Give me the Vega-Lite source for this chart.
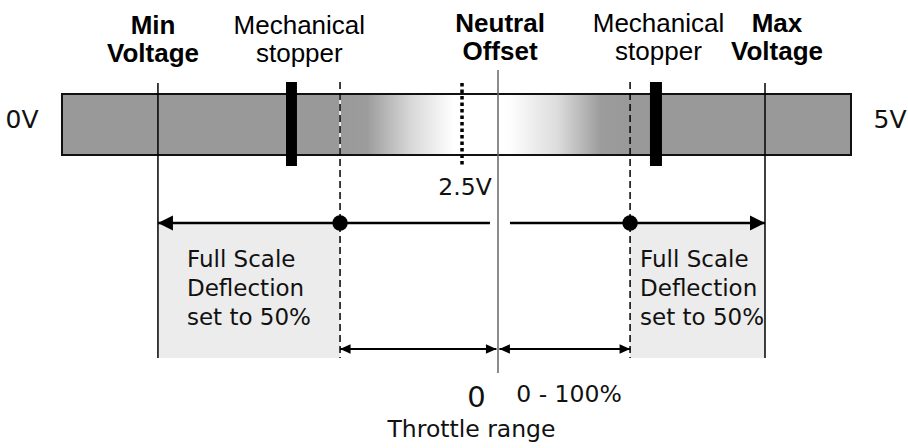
{
  "$schema": "https://vega.github.io/schema/vega-lite/v6.json",
  "width": 908,
  "height": 448,
  "padding": 0,
  "autosize": "none",
  "background": "white",
  "config": {"view": {"stroke": null}, "axis": {"disable": true}},
  "layer": [
    {
      "data": {"values": [
        {"name": "Full scale low", "v0": 0.608, "v1": 1.762, "ytop": 223, "ybot": 358},
        {"name": "Full scale high", "v0": 3.6, "v1": 4.455, "ytop": 223, "ybot": 358}
      ]},
      "mark": {"type": "rect", "fill": "#ececec"},
      "encoding": {
        "x": {"field": "v0", "type": "quantitative", "scale": {"domain": [0, 5], "range": [62, 851]}},
        "x2": {"field": "v1"},
        "y": {"field": "ytop", "type": "quantitative", "scale": {"domain": [0, 448], "reverse": true}},
        "y2": {"field": "ybot"}
      }
    },
    {
      "data": {"values": [{"name": "Voltage band", "v0": 0, "v1": 5, "ytop": 94, "ybot": 155}]},
      "mark": {"type": "rect", "fill": "#999999"},
      "encoding": {
        "x": {"field": "v0", "type": "quantitative", "scale": {"domain": [0, 5], "range": [62, 851]}},
        "x2": {"field": "v1"},
        "y": {"field": "ytop", "type": "quantitative", "scale": {"domain": [0, 448], "reverse": true}},
        "y2": {"field": "ybot"}
      }
    },
    {
      "data": {"values": [{"name": "Fade low", "v0": 1.762, "v1": 2.763, "ytop": 94, "ybot": 155}]},
      "mark": {"type": "rect", "fill": {"gradient": "linear", "x1": 0, "x2": 1, "y1": 0, "y2": 0, "stops": [
        {"offset": 0, "color": "#999999"},
        {"offset": 0.17, "color": "#9c9c9c"},
        {"offset": 0.45, "color": "#d8d8d8"},
        {"offset": 0.72, "color": "#ffffff"},
        {"offset": 1, "color": "#ffffff"}
      ]}},
      "encoding": {
        "x": {"field": "v0", "type": "quantitative", "scale": {"domain": [0, 5], "range": [62, 851]}},
        "x2": {"field": "v1"},
        "y": {"field": "ytop", "type": "quantitative", "scale": {"domain": [0, 448], "reverse": true}},
        "y2": {"field": "ybot"}
      }
    },
    {
      "data": {"values": [{"name": "Fade high", "v0": 2.763, "v1": 3.6, "ytop": 94, "ybot": 155}]},
      "mark": {"type": "rect", "fill": {"gradient": "linear", "x1": 0, "x2": 1, "y1": 0, "y2": 0, "stops": [
        {"offset": 0, "color": "#ffffff"},
        {"offset": 0.1, "color": "#fdfdfd"},
        {"offset": 0.45, "color": "#dcdcdc"},
        {"offset": 0.78, "color": "#9c9c9c"},
        {"offset": 1, "color": "#999999"}
      ]}},
      "encoding": {
        "x": {"field": "v0", "type": "quantitative", "scale": {"domain": [0, 5], "range": [62, 851]}},
        "x2": {"field": "v1"},
        "y": {"field": "ytop", "type": "quantitative", "scale": {"domain": [0, 448], "reverse": true}},
        "y2": {"field": "ybot"}
      }
    },
    {
      "data": {"values": [{"name": "Voltage band outline", "v0": 0, "v1": 5, "ytop": 94, "ybot": 155}]},
      "mark": {"type": "rect", "fill": null, "fillOpacity": 0, "stroke": "#111111", "strokeWidth": 2},
      "encoding": {
        "x": {"field": "v0", "type": "quantitative", "scale": {"domain": [0, 5], "range": [62, 851]}},
        "x2": {"field": "v1"},
        "y": {"field": "ytop", "type": "quantitative", "scale": {"domain": [0, 448], "reverse": true}},
        "y2": {"field": "ybot"}
      }
    },
    {
      "data": {"values": [
        {"name": "Min voltage", "v": 0.608, "ytop": 83, "ybot": 358},
        {"name": "Max voltage", "v": 4.455, "ytop": 83, "ybot": 358}
      ]},
      "mark": {"type": "rule", "color": "#000000", "strokeWidth": 1.5},
      "encoding": {
        "x": {"field": "v", "type": "quantitative", "scale": {"domain": [0, 5], "range": [62, 851]}},
        "y": {"field": "ytop", "type": "quantitative", "scale": {"domain": [0, 448], "reverse": true}},
        "y2": {"field": "ybot"}
      }
    },
    {
      "data": {"values": [{"name": "Neutral offset", "v": 2.763, "ytop": 70, "ybot": 373}]},
      "mark": {"type": "rule", "color": "#666666", "strokeWidth": 1.5},
      "encoding": {
        "x": {"field": "v", "type": "quantitative", "scale": {"domain": [0, 5], "range": [62, 851]}},
        "y": {"field": "ytop", "type": "quantitative", "scale": {"domain": [0, 448], "reverse": true}},
        "y2": {"field": "ybot"}
      }
    },
    {
      "data": {"values": [{"name": "Stop low underlay", "v": 1.762, "ytop": 95, "ybot": 154}]},
      "mark": {"type": "rule", "color": "#ffffff", "strokeWidth": 1.5},
      "encoding": {
        "x": {"field": "v", "type": "quantitative", "scale": {"domain": [0, 5], "range": [62, 851]}},
        "y": {"field": "ytop", "type": "quantitative", "scale": {"domain": [0, 448], "reverse": true}},
        "y2": {"field": "ybot"}
      }
    },
    {
      "data": {"values": [
        {"name": "Throttle start low", "v": 1.762, "ytop": 82, "ybot": 358},
        {"name": "Throttle start high", "v": 3.6, "ytop": 82, "ybot": 358}
      ]},
      "mark": {"type": "rule", "color": "#000000", "strokeWidth": 1.5, "strokeDash": [7, 4]},
      "encoding": {
        "x": {"field": "v", "type": "quantitative", "scale": {"domain": [0, 5], "range": [62, 851]}},
        "y": {"field": "ytop", "type": "quantitative", "scale": {"domain": [0, 448], "reverse": true}},
        "y2": {"field": "ybot"}
      }
    },
    {
      "data": {"values": [{"name": "2.5V", "v": 2.535, "ytop": 83, "ybot": 166}]},
      "mark": {"type": "rule", "color": "#000000", "strokeWidth": 3.5, "strokeDash": [3.5, 3]},
      "encoding": {
        "x": {"field": "v", "type": "quantitative", "scale": {"domain": [0, 5], "range": [62, 851]}},
        "y": {"field": "ytop", "type": "quantitative", "scale": {"domain": [0, 448], "reverse": true}},
        "y2": {"field": "ybot"}
      }
    },
    {
      "data": {"values": [
        {"name": "Mechanical stopper low", "v0": 1.4195, "v1": 1.489, "ytop": 82, "ybot": 166},
        {"name": "Mechanical stopper high", "v0": 3.726, "v1": 3.802, "ytop": 82, "ybot": 166}
      ]},
      "mark": {"type": "rect", "fill": "#000000"},
      "encoding": {
        "x": {"field": "v0", "type": "quantitative", "scale": {"domain": [0, 5], "range": [62, 851]}},
        "x2": {"field": "v1"},
        "y": {"field": "ytop", "type": "quantitative", "scale": {"domain": [0, 448], "reverse": true}},
        "y2": {"field": "ybot"}
      }
    },
    {
      "data": {"values": [
        {"name": "Deflection low", "v0": 0.608, "v1": 2.712, "y": 223},
        {"name": "Deflection high", "v0": 2.839, "v1": 4.455, "y": 223}
      ]},
      "mark": {"type": "rule", "color": "#000000", "strokeWidth": 2.5},
      "encoding": {
        "x": {"field": "v0", "type": "quantitative", "scale": {"domain": [0, 5], "range": [62, 851]}},
        "x2": {"field": "v1"},
        "y": {"field": "y", "type": "quantitative", "scale": {"domain": [0, 448], "reverse": true}}
      }
    },
    {
      "data": {"values": [
        {"name": "Throttle low", "v0": 1.762, "v1": 2.753, "y": 349},
        {"name": "Throttle high", "v0": 2.772, "v1": 3.6, "y": 349}
      ]},
      "mark": {"type": "rule", "color": "#000000", "strokeWidth": 2},
      "encoding": {
        "x": {"field": "v0", "type": "quantitative", "scale": {"domain": [0, 5], "range": [62, 851]}},
        "x2": {"field": "v1"},
        "y": {"field": "y", "type": "quantitative", "scale": {"domain": [0, 448], "reverse": true}}
      }
    },
    {
      "data": {"values": [{"name": "Min arrow", "v": 0.608, "y": 223}]},
      "mark": {"type": "point", "shape": "M0,0L2,-1L2,1Z", "size": 225, "filled": true, "color": "#000000", "opacity": 1, "strokeWidth": 0},
      "encoding": {
        "x": {"field": "v", "type": "quantitative", "scale": {"domain": [0, 5], "range": [62, 851]}},
        "y": {"field": "y", "type": "quantitative", "scale": {"domain": [0, 448], "reverse": true}}
      }
    },
    {
      "data": {"values": [{"name": "Max arrow", "v": 4.455, "y": 223}]},
      "mark": {"type": "point", "shape": "M0,0L-2,-1L-2,1Z", "size": 225, "filled": true, "color": "#000000", "opacity": 1, "strokeWidth": 0},
      "encoding": {
        "x": {"field": "v", "type": "quantitative", "scale": {"domain": [0, 5], "range": [62, 851]}},
        "y": {"field": "y", "type": "quantitative", "scale": {"domain": [0, 448], "reverse": true}}
      }
    },
    {
      "data": {"values": [
        {"name": "Throttle low end", "v": 1.762, "y": 349},
        {"name": "Throttle high start", "v": 2.772, "y": 349}
      ]},
      "mark": {"type": "point", "shape": "M0,0L2,-0.9L2,0.9Z", "size": 110, "filled": true, "color": "#000000", "opacity": 1, "strokeWidth": 0},
      "encoding": {
        "x": {"field": "v", "type": "quantitative", "scale": {"domain": [0, 5], "range": [62, 851]}},
        "y": {"field": "y", "type": "quantitative", "scale": {"domain": [0, 448], "reverse": true}}
      }
    },
    {
      "data": {"values": [
        {"name": "Throttle low start", "v": 2.753, "y": 349},
        {"name": "Throttle high end", "v": 3.6, "y": 349}
      ]},
      "mark": {"type": "point", "shape": "M0,0L-2,-0.9L-2,0.9Z", "size": 110, "filled": true, "color": "#000000", "opacity": 1, "strokeWidth": 0},
      "encoding": {
        "x": {"field": "v", "type": "quantitative", "scale": {"domain": [0, 5], "range": [62, 851]}},
        "y": {"field": "y", "type": "quantitative", "scale": {"domain": [0, 448], "reverse": true}}
      }
    },
    {
      "data": {"values": [
        {"name": "Throttle zero low", "v": 1.762, "y": 223},
        {"name": "Throttle zero high", "v": 3.6, "y": 223}
      ]},
      "mark": {"type": "circle", "size": 240, "color": "#000000", "opacity": 1},
      "encoding": {
        "x": {"field": "v", "type": "quantitative", "scale": {"domain": [0, 5], "range": [62, 851]}},
        "y": {"field": "y", "type": "quantitative", "scale": {"domain": [0, 448], "reverse": true}}
      }
    },
    {
      "data": {"values": [
        {"t": "Min", "v": 0.577, "y": 34},
        {"t": "Voltage", "v": 0.577, "y": 62},
        {"t": "Neutral", "v": 2.776, "y": 32},
        {"t": "Offset", "v": 2.776, "y": 60},
        {"t": "Max", "v": 4.531, "y": 32},
        {"t": "Voltage", "v": 4.531, "y": 60}
      ]},
      "mark": {"type": "text", "font": "Liberation Sans", "fontWeight": "bold", "fontSize": 26, "align": "center", "baseline": "alphabetic", "color": "#000000"},
      "encoding": {
        "x": {"field": "v", "type": "quantitative", "scale": {"domain": [0, 5], "range": [62, 851]}},
        "y": {"field": "y", "type": "quantitative", "scale": {"domain": [0, 448], "reverse": true}},
        "text": {"field": "t"}
      }
    },
    {
      "data": {"values": [
        {"t": "Mechanical", "v": 1.504, "y": 34},
        {"t": "stopper", "v": 1.504, "y": 62},
        {"t": "Mechanical", "v": 3.78, "y": 32},
        {"t": "stopper", "v": 3.78, "y": 60}
      ]},
      "mark": {"type": "text", "font": "Liberation Sans", "fontSize": 26, "align": "center", "baseline": "alphabetic", "color": "#000000"},
      "encoding": {
        "x": {"field": "v", "type": "quantitative", "scale": {"domain": [0, 5], "range": [62, 851]}},
        "y": {"field": "y", "type": "quantitative", "scale": {"domain": [0, 448], "reverse": true}},
        "text": {"field": "t"}
      }
    },
    {
      "data": {"values": [
        {"t": "0V", "v": -0.253, "y": 128},
        {"t": "5V", "v": 5.247, "y": 128}
      ]},
      "mark": {"type": "text", "font": "DejaVu Sans", "fontSize": 25, "align": "center", "baseline": "alphabetic", "color": "#111111"},
      "encoding": {
        "x": {"field": "v", "type": "quantitative", "scale": {"domain": [0, 5], "range": [62, 851]}},
        "y": {"field": "y", "type": "quantitative", "scale": {"domain": [0, 448], "reverse": true}},
        "text": {"field": "t"}
      }
    },
    {
      "data": {"values": [
        {"t": "2.5V", "v": 2.554, "y": 195},
        {"t": "0 - 100%", "v": 3.213, "y": 402},
        {"t": "Throttle range", "v": 2.595, "y": 437}
      ]},
      "mark": {"type": "text", "font": "DejaVu Sans", "fontSize": 23.5, "align": "center", "baseline": "alphabetic", "color": "#111111"},
      "encoding": {
        "x": {"field": "v", "type": "quantitative", "scale": {"domain": [0, 5], "range": [62, 851]}},
        "y": {"field": "y", "type": "quantitative", "scale": {"domain": [0, 448], "reverse": true}},
        "text": {"field": "t"}
      }
    },
    {
      "data": {"values": [{"t": "0", "v": 2.627, "y": 407}]},
      "mark": {"type": "text", "font": "DejaVu Sans", "fontSize": 29, "align": "center", "baseline": "alphabetic", "color": "#111111"},
      "encoding": {
        "x": {"field": "v", "type": "quantitative", "scale": {"domain": [0, 5], "range": [62, 851]}},
        "y": {"field": "y", "type": "quantitative", "scale": {"domain": [0, 448], "reverse": true}},
        "text": {"field": "t"}
      }
    },
    {
      "data": {"values": [
        {"t": "Full Scale", "v": 0.792, "y": 267},
        {"t": "Deflection", "v": 0.792, "y": 296},
        {"t": "set to 50%", "v": 0.792, "y": 325},
        {"t": "Full Scale", "v": 3.663, "y": 267},
        {"t": "Deflection", "v": 3.663, "y": 296},
        {"t": "set to 50%", "v": 3.663, "y": 325}
      ]},
      "mark": {"type": "text", "font": "DejaVu Sans", "fontSize": 23, "align": "left", "baseline": "alphabetic", "color": "#111111"},
      "encoding": {
        "x": {"field": "v", "type": "quantitative", "scale": {"domain": [0, 5], "range": [62, 851]}},
        "y": {"field": "y", "type": "quantitative", "scale": {"domain": [0, 448], "reverse": true}},
        "text": {"field": "t"}
      }
    }
  ]
}
